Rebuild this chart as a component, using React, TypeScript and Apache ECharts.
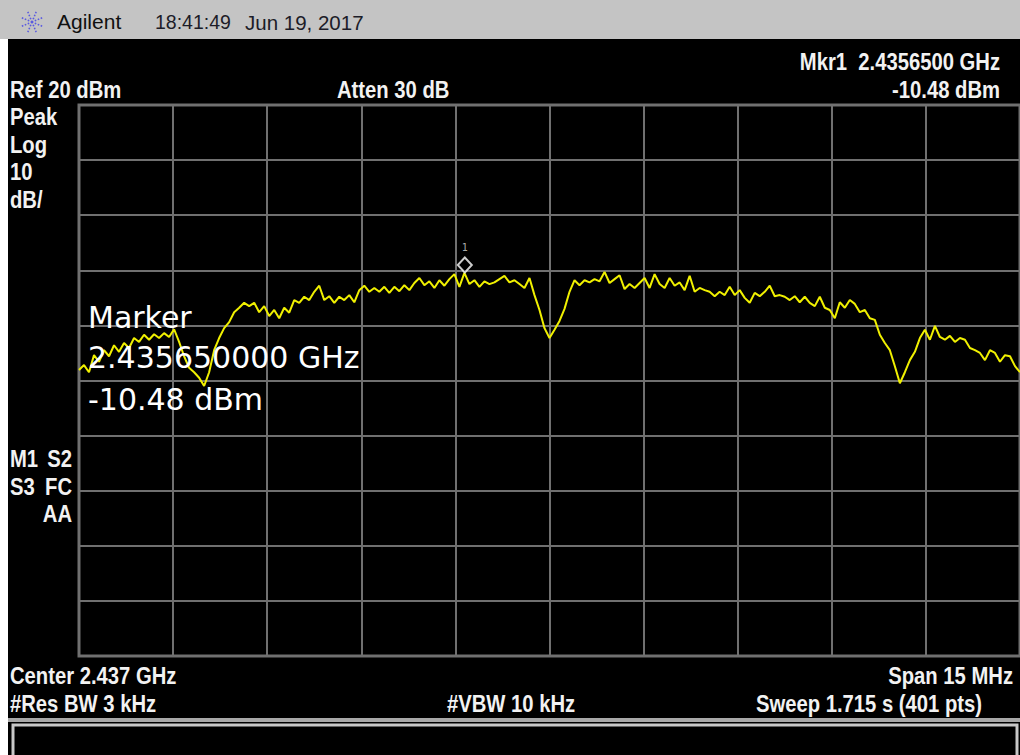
import React, { useEffect, useRef } from "react";
import * as echarts from "echarts";

// ---- Instrument settings ----
const CENTER_GHZ = 2.437;
const SPAN_MHZ = 15;
const REF_DBM = 20;
const DB_PER_DIV = 10;
const DIVISIONS = 10;

// ---- Trace (dBm), evenly spaced across the span ----
const traceDbm = [
  -28.1, -27.2, -28.5, -25.4, -26.6, -24.5, -25.6, -23.6, -24.8, -23.2,
  -24.1, -22.3, -23.0, -21.7, -22.6, -21.6, -22.3, -21.4, -22.1, -20.7,
  -23.0, -25.6, -27.7, -28.5, -29.5, -31.0, -28.5, -24.5, -22.3, -20.5,
  -19.4, -17.6, -16.8, -15.9, -16.5, -15.9, -17.6, -16.5, -18.3, -17.2,
  -18.7, -16.8, -17.7, -15.4, -15.9, -14.8, -15.4, -13.9, -12.8, -15.4,
  -14.7, -15.9, -14.8, -15.4, -14.5, -15.8, -13.6, -12.8, -13.9, -13.2,
  -13.9, -13.0, -14.1, -13.0, -13.8, -12.7, -13.6, -12.3, -11.4, -12.7,
  -12.0, -13.2, -11.8, -12.8, -11.6, -10.7, -13.0, -10.48, -12.5, -11.8,
  -13.0, -12.0, -12.5, -12.2, -11.6, -11.0, -12.2, -11.8, -12.5, -13.2,
  -11.4, -14.5, -17.2, -20.5, -22.3, -20.8, -19.2, -17.0, -13.9, -11.8,
  -12.7, -11.8, -12.2, -11.6, -12.0, -10.3, -12.3, -11.6, -10.9, -13.4,
  -12.5, -13.2, -12.3, -11.4, -13.2, -10.7, -12.5, -13.2, -11.4, -12.8,
  -12.2, -13.6, -11.0, -13.9, -13.2, -13.6, -13.9, -14.7, -13.9, -14.5,
  -13.0, -14.5, -13.6, -15.0, -15.9, -14.1, -14.7, -13.9, -12.8, -14.7,
  -14.5, -14.8, -15.4, -14.7, -15.8, -14.8, -15.9, -16.5, -14.8, -16.8,
  -17.2, -18.7, -15.8, -16.8, -15.4, -16.1, -17.6, -17.2, -18.7, -19.0,
  -21.7, -23.2, -24.5, -27.4, -30.5, -28.5, -26.3, -24.8, -22.3, -20.8,
  -22.6, -20.1, -22.1, -22.6, -21.9, -23.0, -22.3, -22.6, -24.1, -24.5,
  -25.0, -26.3, -24.5, -25.0, -26.6, -25.4, -25.6, -27.4, -28.5,
];

// ---- Marker ----
const markerFreqGHz = 2.43565;
const markerDbm = -10.48;

// ---- Annotation texts ----
const timeText = "18:41:49";
const dateText = "Jun 19, 2017";
const leftTopLabels = ["Peak", "Log", "10", "dB/"];
const attenText = "Atten 30 dB";
const resBwText = "#Res BW 3 kHz";
const vbwText = "#VBW 10 kHz";
const sweepText = "Sweep 1.715 s (401 pts)";

export default function App() {
  const ref = useRef<HTMLDivElement>(null);

  useEffect(() => {
    document.body.style.margin = "0";
    if (!ref.current) return;
    const chart = echarts.init(ref.current, undefined, { renderer: "svg" });

    const n = traceDbm.length;
    const half = SPAN_MHZ / 2;
    const traceData = traceDbm.map((v, i) => [-half + (i * SPAN_MHZ) / (n - 1), v]);
    const markerOffsetMHz = (markerFreqGHz - CENTER_GHZ) * 1000;

    const bottomDbm = REF_DBM - DB_PER_DIV * DIVISIONS;

    const instFont = "Liberation Sans";
    const lbl = (x: number, y: number, text: string, align: string = "left", extra: any = {}) => ({
      type: "text",
      x,
      y,
      scaleX: 0.88,
      z: 100,
      silent: true,
      style: {
        text,
        fill: "#f2f2f2",
        fontFamily: instFont,
        fontWeight: "bold",
        fontSize: 23,
        textAlign: align,
        textVerticalAlign: "middle",
        ...extra,
      },
    });

    const big = (y: number, text: string) => ({
      type: "text",
      x: 88,
      y,
      z: 100,
      silent: true,
      style: {
        text,
        fill: "#ffffff",
        fontFamily: "DejaVu Sans",
        fontSize: 30,
        textAlign: "left",
        textVerticalAlign: "middle",
      },
    });

    // Agilent spark logo
    const logoCx = 32;
    const logoCy = 22;
    const logo: any[] = [];
    for (let k = 0; k < 8; k++) {
      const a = (k * Math.PI) / 4 + Math.PI / 8;
      logo.push({
        type: "line",
        z: 50,
        silent: true,
        shape: {
          x1: logoCx + Math.cos(a) * 3,
          y1: logoCy + Math.sin(a) * 3,
          x2: logoCx + Math.cos(a) * 11,
          y2: logoCy + Math.sin(a) * 11,
        },
        style: { stroke: "#5a5ae0", lineWidth: 1.6, lineDash: [1.6, 1.6] },
      });
    }
    logo.push({
      type: "circle",
      z: 50,
      silent: true,
      shape: { cx: logoCx, cy: logoCy, r: 1.5 },
      style: { fill: "#5a5ae0" },
    });

    const fmtMkrFreq = markerFreqGHz.toFixed(7);
    const fmtMkrAmp = markerDbm.toFixed(2);

    const option: any = {
      animation: false,
      backgroundColor: "#ffffff",
      grid: {
        left: 79,
        top: 105,
        width: 941,
        height: 551,
        show: true,
        backgroundColor: "transparent",
        borderColor: "#6e6e6e",
        borderWidth: 3,
        z: 1,
      },
      xAxis: {
        type: "value",
        min: -half,
        max: half,
        interval: SPAN_MHZ / DIVISIONS,
        axisLine: { show: false },
        axisTick: { show: false },
        axisLabel: { show: false },
        splitLine: { show: true, lineStyle: { color: "#707070", width: 2 } },
        z: 1,
      },
      yAxis: {
        type: "value",
        min: bottomDbm,
        max: REF_DBM,
        interval: DB_PER_DIV,
        axisLine: { show: false },
        axisTick: { show: false },
        axisLabel: { show: false },
        splitLine: { show: true, lineStyle: { color: "#707070", width: 2 } },
        z: 1,
      },
      series: [
        {
          type: "line",
          data: traceData,
          showSymbol: false,
          silent: true,
          lineStyle: { color: "#f0f000", width: 2 },
          z: 5,
        },
        {
          type: "scatter",
          data: [[markerOffsetMHz, markerDbm]],
          symbol: "diamond",
          symbolSize: [14, 15],
          symbolOffset: [0, -8],
          silent: true,
          itemStyle: { color: "#000000", borderColor: "#ffffff", borderWidth: 2 },
          label: {
            show: true,
            formatter: "1",
            position: "top",
            distance: 4,
            color: "#d8d8d8",
            fontSize: 10,
            fontFamily: "DejaVu Sans Mono",
          },
          z: 6,
        },
      ],
      graphic: [
        // backgrounds
        {
          type: "rect",
          z: -10,
          silent: true,
          shape: { x: 0, y: 0, width: 1020, height: 39 },
          style: { fill: "#c4c4c4" },
        },
        {
          type: "rect",
          z: -10,
          silent: true,
          shape: { x: 8, y: 39, width: 1012, height: 716 },
          style: { fill: "#000000" },
        },
        {
          type: "rect",
          z: 50,
          silent: true,
          shape: { x: 8, y: 718, width: 1012, height: 4 },
          style: { fill: "#a8a8a8" },
        },
        {
          type: "rect",
          z: 50,
          silent: true,
          shape: { x: 13, y: 725, width: 1004, height: 40 },
          style: { fill: "#000000", stroke: "#c8c8c8", lineWidth: 3 },
        },
        ...logo,
        {
          type: "text",
          x: 57,
          y: 21,
          z: 100,
          silent: true,
          style: {
            text: "Agilent",
            fill: "#111111",
            fontFamily: "Liberation Sans",
            fontSize: 21,
            textVerticalAlign: "middle",
          },
        },
        {
          type: "text",
          x: 155,
          y: 22,
          z: 100,
          silent: true,
          style: {
            text: timeText,
            fill: "#1c1c28",
            fontFamily: "Liberation Sans",
            fontSize: 19.5,
            textVerticalAlign: "middle",
          },
        },
        {
          type: "text",
          x: 245,
          y: 22,
          z: 100,
          silent: true,
          style: {
            text: dateText,
            fill: "#1c1c28",
            fontFamily: "Liberation Sans",
            fontSize: 20.5,
            textVerticalAlign: "middle",
          },
        },
        // header
        lbl(1000, 62, `Mkr1  ${fmtMkrFreq} GHz`, "right"),
        lbl(10, 90, `Ref ${REF_DBM} dBm`),
        lbl(337, 90, attenText),
        lbl(1000, 90, `${fmtMkrAmp} dBm`, "right"),
        // left column
        ...leftTopLabels.map((t, i) => lbl(10, 117 + i * 27.7, t)),
        lbl(10, 459, "M1"),
        lbl(72, 459, "S2", "right"),
        lbl(10, 487, "S3"),
        lbl(72, 487, "FC", "right"),
        lbl(72, 514, "AA", "right"),
        // bottom
        lbl(10, 676, `Center ${CENTER_GHZ} GHz`),
        lbl(1013, 676, `Span ${SPAN_MHZ} MHz`, "right"),
        lbl(10, 704, resBwText),
        lbl(447, 704, vbwText),
        lbl(982, 704, sweepText, "right"),
        // marker readout
        big(317, "Marker"),
        big(357, `${markerFreqGHz.toFixed(9)} GHz`),
        big(399, `${fmtMkrAmp} dBm`),
      ],
    };

    chart.setOption(option);
    return () => {
      chart.dispose();
    };
  }, []);

  return <div ref={ref} style={{ width: 1020, height: 755 }} />;
}
